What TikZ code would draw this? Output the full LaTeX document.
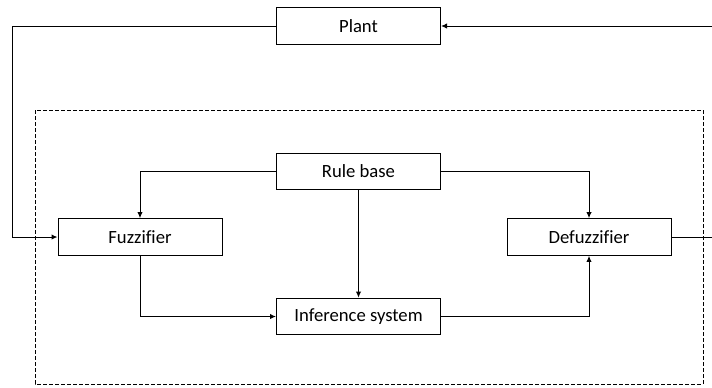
\documentclass[tikz,border=0pt]{standalone}
\usepackage{fontspec}
\setmainfont{Carlito}[Ligatures=NoCommon]
\usetikzlibrary{arrows.meta}
\begin{document}
\begin{tikzpicture}[x=0.75pt,y=-0.75pt,
  block/.style={draw,line width=0.75pt,minimum width=123pt,minimum height=27.5pt,inner sep=0pt,font=\fontsize{14}{16}\selectfont},
  wire/.style={line width=0.75pt},
  arr/.style={wire,-{Latex[length=4.5pt,width=4pt]}},
  frame/.style={line width=0.75pt,dash pattern=on 3pt off 1.5pt}]
\useasboundingbox (0,0) rectangle (712,387);
% enclosing controller frame
\draw[frame] (35,110) rectangle (703,384);
% blocks
\node[block] (plant) at (358.5,26) {Plant};
\node[block] (rule) at (358.5,171.5) {Rule base};
\node[block] (fuzz) at (140,237) {Fuzzifier};
\node[block] (defuzz) at (589,237) {Defuzzifier};
\node[block] (inf) at (358.5,316.5) {Inference system};
% loop ends (the return path runs just past the right edge)
\coordinate (lt) at (12,26);
\coordinate (rt) at (718,26);
\coordinate (rb) at (718,237);
% connectors
\draw[arr] (plant.west) -- (lt) |- (fuzz.west);
\draw[arr] (defuzz.east) -- (rb) -- (rt) -- (plant.east);
\draw[arr] (rule.west) -| (fuzz.north);
\draw[arr] (rule.east) -| (defuzz.north);
\draw[arr] (rule.south) -- (inf.north);
\draw[arr] (fuzz.south) |- (inf.west);
\draw[arr] (inf.east) -| (defuzz.south);
\end{tikzpicture}
\end{document}
